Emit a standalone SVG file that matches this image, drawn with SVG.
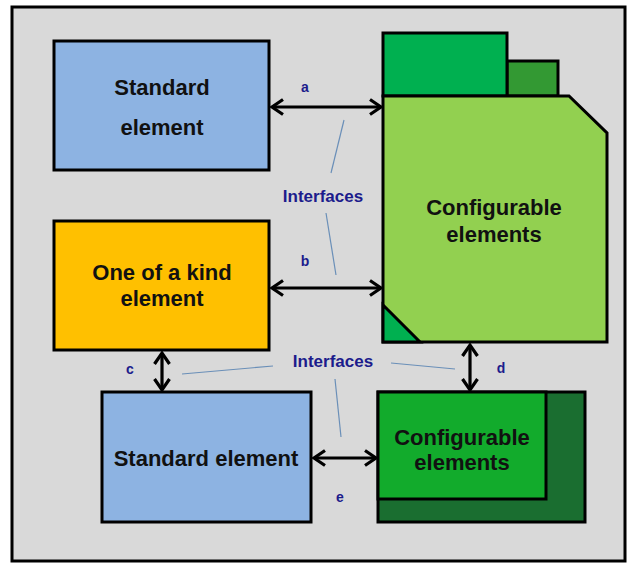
<svg xmlns="http://www.w3.org/2000/svg" width="641" height="571" viewBox="0 0 641 571">
<defs>
<marker id="ah" viewBox="0 0 16 18" refX="13" refY="9" markerWidth="16" markerHeight="18" markerUnits="userSpaceOnUse" orient="auto-start-reverse">
<path d="M2,1.5 L13,9 L2,16.5" fill="none" stroke="#000" stroke-width="3.2" stroke-linejoin="miter"/>
</marker>
<style>
.box{stroke:#000;stroke-width:3}
.t{font-family:"Liberation Sans",Arial,sans-serif;font-weight:bold;font-size:22px;fill:#111;text-anchor:middle}
.l{font-family:"Liberation Sans",Arial,sans-serif;font-weight:bold;font-size:14px;fill:#1c1c8c;text-anchor:middle}
.i{font-family:"Liberation Sans",Arial,sans-serif;font-weight:bold;font-size:17px;fill:#1c1c8c;text-anchor:middle}
.arr{stroke:#000;stroke-width:3.2;fill:none;marker-start:url(#ah);marker-end:url(#ah)}
.thin{stroke:#6a8fb8;stroke-width:1.2;fill:none}
</style>
</defs>
<rect width="641" height="571" fill="#fff"/>
<rect x="12" y="7" width="613" height="554" fill="#d9d9d9" stroke="#000" stroke-width="3"/>

<g id="standard-top">
<rect class="box" x="54" y="41" width="215" height="129" fill="#8db3e2"/>
<text class="t" x="162" y="95">Standard</text>
<text class="t" x="162" y="135">element</text>
</g>

<g id="configurable-top">
<rect class="box" x="507" y="61" width="51" height="35" fill="#339933"/>
<rect class="box" x="383" y="33" width="124" height="63" fill="#00b050"/>
<path class="box" d="M383,96 L569,96 L607,133 L607,342 L383,342 Z" fill="#92d050"/>
<path class="box" d="M383,305 L420,342 L383,342 Z" fill="#00b050" stroke-width="2"/>
<text class="t" x="494" y="215">Configurable</text>
<text class="t" x="494" y="242">elements</text>
</g>

<g id="one-of-a-kind">
<rect class="box" x="54" y="221" width="215" height="129" fill="#ffc000"/>
<text class="t" x="162" y="280">One of a kind</text>
<text class="t" x="162" y="306">element</text>
</g>

<g id="standard-bottom">
<rect class="box" x="102" y="392" width="209" height="130" fill="#8db3e2"/>
<text class="t" x="206" y="466">Standard element</text>
</g>

<g id="configurable-bottom">
<rect class="box" x="378" y="392" width="207" height="130" fill="#1a6e30"/>
<rect class="box" x="378" y="392" width="168" height="107" fill="#12ab2c"/>
<text class="t" x="462" y="445">Configurable</text>
<text class="t" x="462" y="470">elements</text>
</g>

<g id="connectors">
<line class="arr" x1="272" y1="107" x2="381" y2="107"/>
<line class="arr" x1="272" y1="288" x2="381" y2="288"/>
<line class="arr" x1="162" y1="353" x2="162" y2="390"/>
<line class="arr" x1="470" y1="345" x2="470" y2="390"/>
<line class="arr" x1="314" y1="458" x2="376" y2="458"/>
<line class="thin" x1="344" y1="120" x2="331" y2="173"/>
<line class="thin" x1="326" y1="213" x2="336" y2="275"/>
<line class="thin" x1="182" y1="374" x2="273" y2="366"/>
<line class="thin" x1="391" y1="363" x2="455" y2="369"/>
<line class="thin" x1="335" y1="379" x2="341" y2="437"/>
<text class="l" x="305" y="92">a</text>
<text class="l" x="305" y="266">b</text>
<text class="l" x="130" y="374">c</text>
<text class="l" x="501" y="373">d</text>
<text class="l" x="340" y="502">e</text>
<text class="i" x="323" y="202">Interfaces</text>
<text class="i" x="333" y="367">Interfaces</text>
</g>
</svg>
